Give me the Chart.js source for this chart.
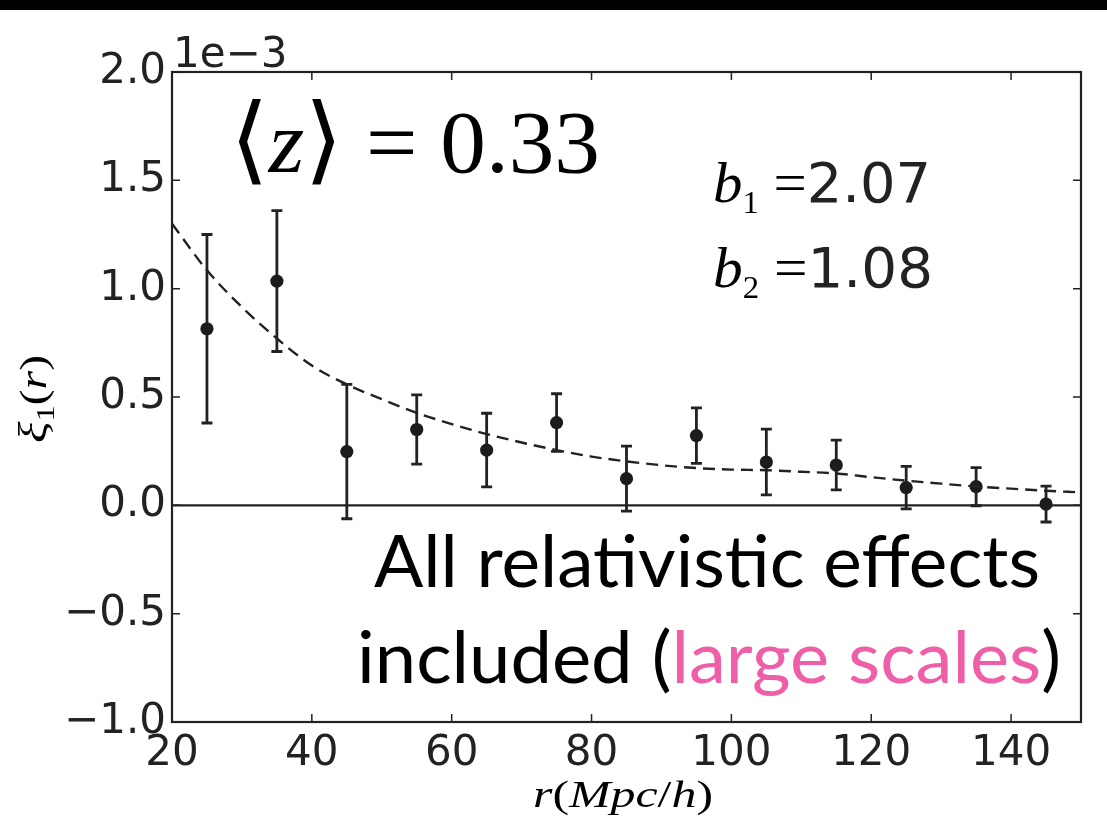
<!DOCTYPE html>
<html>
<head>
<meta charset="utf-8">
<script src="https://cdn.jsdelivr.net/npm/chart.js"></script>
<style>
  html, body { margin: 0; padding: 0; background: #fff; }
  canvas { display: block; }
</style>
</head>
<body>
<canvas id="xiChart" width="1107" height="830"></canvas>
<script>
// measured dipole xi_1(r), values in units of 1e-3
var rBins = [25, 35, 45, 55, 65, 75, 85, 95, 105, 115, 125, 135, 145];
var xiMeasured = [0.815, 1.035, 0.248, 0.35, 0.255, 0.382, 0.123, 0.322, 0.2, 0.186, 0.082, 0.086, 0.006];
var xiError = [0.435, 0.325, 0.31, 0.16, 0.17, 0.133, 0.15, 0.128, 0.152, 0.115, 0.098, 0.088, 0.083];

// model prediction (dashed curve)
var rModel = [20, 25, 30, 35, 40, 45, 50, 55, 60, 65, 70, 75, 80, 85, 90, 95, 100, 105, 110, 115, 120, 125, 130, 135, 140, 145, 150];
var xiModel = [1.30, 1.085, 0.915, 0.77, 0.645, 0.558, 0.49, 0.427, 0.375, 0.329, 0.29, 0.255, 0.225, 0.203, 0.185, 0.172, 0.165, 0.162, 0.155, 0.147, 0.13, 0.114, 0.1, 0.087, 0.077, 0.067, 0.06];

var xTicks = [20, 40, 60, 80, 100, 120, 140];
var yTicks = [-1.0, -0.5, 0.0, 0.5, 1.0, 1.5, 2.0];

var ink = '#222222';
var pink = '#ee5fa8';
var serif = '"Liberation Serif", serif';

function drawRuns(ctx, runs, x, y, width, align) {
  var total = 0;
  runs.forEach(function(r) {
    ctx.font = r.font;
    r.w = ctx.measureText(r.text).width;
    total += r.w;
  });
  var sx = width ? width / total : 1;
  var w = total * sx;
  var x0 = align === 'right' ? x - w : (align === 'center' ? x - w / 2 : x);
  ctx.save();
  ctx.translate(x0, y);
  ctx.scale(sx, 1);
  ctx.textAlign = 'left';
  ctx.textBaseline = 'alphabetic';
  var cx = 0;
  runs.forEach(function(r) {
    ctx.font = r.font;
    ctx.fillStyle = r.color || '#000';
    ctx.fillText(r.text, cx, r.dy || 0);
    cx += r.w;
  });
  ctx.restore();
}

var errorBars = {
  id: 'errorBars',
  beforeDraw: function(chart) {
    var ctx = chart.ctx;
    ctx.save();
    ctx.fillStyle = '#fff';
    ctx.fillRect(0, 0, chart.width, chart.height);
    ctx.restore();
  },
  beforeDatasetsDraw: function(chart) {
    var ctx = chart.ctx, xs = chart.scales.x, ys = chart.scales.y, a = chart.chartArea;
    ctx.save();
    // zero line
    ctx.strokeStyle = ink;
    ctx.lineWidth = 2.2;
    ctx.beginPath();
    ctx.moveTo(a.left, ys.getPixelForValue(0));
    ctx.lineTo(a.right, ys.getPixelForValue(0));
    ctx.stroke();
    // error bars
    ctx.lineWidth = 2.8;
    for (var i = 0; i < rBins.length; i++) {
      var px = xs.getPixelForValue(rBins[i]);
      var hi = ys.getPixelForValue(xiMeasured[i] + xiError[i]);
      var lo = ys.getPixelForValue(xiMeasured[i] - xiError[i]);
      ctx.beginPath();
      ctx.moveTo(px, hi); ctx.lineTo(px, lo);
      ctx.moveTo(px - 5.5, hi); ctx.lineTo(px + 5.5, hi);
      ctx.moveTo(px - 5.5, lo); ctx.lineTo(px + 5.5, lo);
      ctx.stroke();
    }
    ctx.restore();
  },
  afterDraw: function(chart) {
    var ctx = chart.ctx, xs = chart.scales.x, ys = chart.scales.y, a = chart.chartArea;
    ctx.save();
    // frame
    ctx.strokeStyle = ink;
    ctx.lineWidth = 2.2;
    ctx.strokeRect(a.left, a.top, a.right - a.left, a.bottom - a.top);
    // inward ticks on all four sides
    ctx.lineWidth = 1.5;
    ctx.beginPath();
    xs.ticks.forEach(function(t) {
      var px = xs.getPixelForValue(t.value);
      ctx.moveTo(px, a.bottom); ctx.lineTo(px, a.bottom - 8);
      ctx.moveTo(px, a.top); ctx.lineTo(px, a.top + 8);
    });
    ys.ticks.forEach(function(t) {
      var py = ys.getPixelForValue(t.value);
      ctx.moveTo(a.left, py); ctx.lineTo(a.left + 8, py);
      ctx.moveTo(a.right, py); ctx.lineTo(a.right - 8, py);
    });
    ctx.stroke();

    // offset text of the y axis
    drawRuns(ctx, [{ text: '1e\u22123', font: '42px "DejaVu Sans"', color: ink }], 173, 67);

    // redshift label
    drawRuns(ctx, [
      { text: '\u27E8', font: '96px "DejaVu Serif"' },
      { text: 'z', font: 'italic 88px ' + serif },
      { text: '\u27E9', font: '96px "DejaVu Serif"' },
      { text: ' = 0.33', font: '88px ' + serif }
    ], 230, 172, 370);

    // bias values
    drawRuns(ctx, [
      { text: 'b', font: 'italic 58px ' + serif },
      { text: '1', font: '32px ' + serif, dy: 11 },
      { text: ' =', font: '58px ' + serif },
      { text: '2.07', font: '55px "DejaVu Sans"', color: ink }
    ], 713, 202, 218);
    drawRuns(ctx, [
      { text: 'b', font: 'italic 58px ' + serif },
      { text: '2', font: '32px ' + serif, dy: 11 },
      { text: ' =', font: '58px ' + serif },
      { text: '1.08', font: '55px "DejaVu Sans"', color: ink }
    ], 713, 287, 220);

    // big annotation
    drawRuns(ctx, [{ text: 'All relativistic effects', font: '72px Lato' }], 374, 587, 666);
    drawRuns(ctx, [
      { text: 'included (', font: '72px Lato' },
      { text: 'large scales', font: '72px Lato', color: pink },
      { text: ')', font: '72px Lato' }
    ], 357, 683, 704);

    // axis titles
    drawRuns(ctx, [
      { text: 'r', font: 'italic 38px ' + serif },
      { text: '(', font: '38px ' + serif },
      { text: 'Mpc', font: 'italic 38px ' + serif },
      { text: '/', font: '38px ' + serif },
      { text: 'h', font: 'italic 38px ' + serif },
      { text: ')', font: '38px ' + serif }
    ], 623, 807, 180, 'center');

    ctx.save();
    ctx.translate(46, 399);
    ctx.rotate(-Math.PI / 2);
    drawRuns(ctx, [
      { text: '\u03BE', font: 'italic 40px ' + serif },
      { text: '1', font: '26px ' + serif, dy: 8 },
      { text: '(', font: '38px ' + serif },
      { text: 'r', font: 'italic 38px ' + serif },
      { text: ')', font: '38px ' + serif }
    ], 0, 0, 88, 'center');
    ctx.restore();

    // black strip at the very top
    ctx.fillStyle = '#000';
    ctx.fillRect(0, 0, chart.width, 10);
    ctx.restore();
  }
};

var ctx = document.getElementById('xiChart').getContext('2d');
var config = {
  type: 'scatter',
  data: {
    datasets: [{
      label: 'model',
      type: 'line',
      data: rModel.map(function(r, i) { return { x: r, y: xiModel[i] }; }),
      borderColor: ink,
      borderWidth: 2.4,
      borderDash: [12, 7],
      pointRadius: 0,
      fill: false,
      cubicInterpolationMode: 'monotone'
    }, {
      label: 'measured',
      data: rBins.map(function(r, i) { return { x: r, y: xiMeasured[i] }; }),
      backgroundColor: '#1c1c1c',
      borderColor: '#1c1c1c',
      pointRadius: 6.6,
      borderWidth: 0
    }]
  },
  options: {
    responsive: false,
    animation: false,
    layout: { padding: { top: 72, right: 26, left: 0, bottom: 0 } },
    plugins: { legend: { display: false }, tooltip: { enabled: false } },
    scales: {
      x: {
        type: 'linear',
        min: 20,
        max: 150,
        grid: { display: false, drawTicks: false },
        border: { display: false },
        afterBuildTicks: function(scale) {
          scale.ticks = xTicks.map(function(v) { return { value: v }; });
        },
        afterFit: function(scale) { scale.height = 108; },
        ticks: {
          autoSkip: false,
          maxRotation: 0,
          padding: 7,
          color: ink,
          font: { family: 'DejaVu Sans', size: 42 }
        }
      },
      y: {
        type: 'linear',
        min: -1,
        max: 2,
        grid: { display: false, drawTicks: false },
        border: { display: false },
        afterBuildTicks: function(scale) {
          scale.ticks = yTicks.map(function(v) { return { value: v }; });
        },
        afterFit: function(scale) { scale.width = 172; },
        ticks: {
          autoSkip: false,
          padding: 6,
          color: ink,
          font: { family: 'DejaVu Sans', size: 42 },
          callback: function(v) { return v.toFixed(1).replace('-', '\u2212'); }
        }
      }
    }
  },
  plugins: [errorBars]
};

var chart = new Chart(ctx, config);
</script>
</body>
</html>
